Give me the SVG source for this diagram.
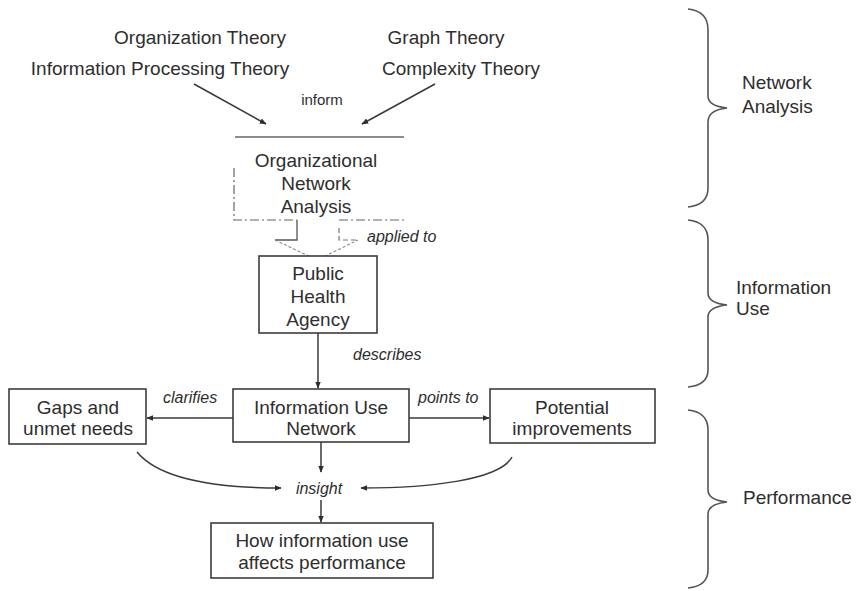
<svg xmlns="http://www.w3.org/2000/svg" width="857" height="591" viewBox="0 0 857 591">
<style>
text{font-family:"Liberation Sans",Arial,sans-serif;fill:#2e2e2e}
.t{font-size:19px;text-anchor:middle}
.s{font-size:19px}
.l{font-size:16px;font-style:italic}
.box{fill:#fff;stroke:#3c3c3c;stroke-width:1.6}
.c{fill:none;stroke:#3a3a3a;stroke-width:1.5}
.d{fill:none;stroke:#666;stroke-width:1.2;stroke-dasharray:9 3 2 3}
.br{fill:none;stroke:#555;stroke-width:1.6}
</style>
<defs>
<marker id="ah" viewBox="0 0 10 10" refX="9" refY="5" markerWidth="7" markerHeight="7" orient="auto" markerUnits="userSpaceOnUse">
<path d="M0,1 L10,5 L0,9 z" fill="#2e2e2e"/>
</marker>
</defs>

<g id="theories">
<text class="t" x="200" y="44">Organization Theory</text>
<text class="t" x="160" y="75">Information Processing Theory</text>
<text class="t" x="446" y="44">Graph Theory</text>
<text class="t" x="461" y="75">Complexity Theory</text>
</g>

<g id="ona">
<line x1="235" y1="137" x2="404" y2="137" stroke="#666" stroke-width="1.4"/>
<path class="d" d="M234,168 V220 H297"/>
<path class="d" d="M339,220 H404"/>
<path d="M297,220 V240 H275" fill="none" stroke="#555" stroke-width="1.3"/>
<path d="M339,228 V240 H358" fill="none" stroke="#777" stroke-width="1.2" stroke-dasharray="5 3"/>
<path d="M275,240 L317,260 L358,240" fill="none" stroke="#888" stroke-width="1.1" stroke-dasharray="3 2"/>
<text class="t" x="316" y="167">Organizational</text>
<text class="t" x="316" y="190">Network</text>
<text class="t" x="316" y="213">Analysis</text>
</g>

<g id="pha">
<rect class="box" x="259" y="256" width="118" height="77"/>
<text class="t" x="318" y="280">Public</text>
<text class="t" x="318" y="303">Health</text>
<text class="t" x="318" y="326">Agency</text>
</g>

<g id="iun">
<rect class="box" x="233" y="389" width="176" height="53"/>
<text class="t" x="321" y="414">Information Use</text>
<text class="t" x="321" y="435">Network</text>
</g>

<g id="gaps">
<rect class="box" x="9" y="389" width="137" height="55"/>
<text class="t" x="78" y="414">Gaps and</text>
<text class="t" x="78" y="435">unmet needs</text>
</g>

<g id="potential">
<rect class="box" x="490" y="389" width="165" height="54"/>
<text class="t" x="572" y="414">Potential</text>
<text class="t" x="572" y="435">improvements</text>
</g>

<g id="perf">
<rect class="box" x="211" y="523" width="222" height="55"/>
<text class="t" x="322" y="547">How information use</text>
<text class="t" x="322" y="569">affects performance</text>
</g>

<g id="connectors">
<line class="c" x1="194" y1="84" x2="266" y2="124" marker-end="url(#ah)"/>
<line class="c" x1="435" y1="84" x2="362" y2="124" marker-end="url(#ah)"/>
<line class="c" x1="318" y1="333" x2="318" y2="388" marker-end="url(#ah)"/>
<line class="c" x1="233" y1="418" x2="147" y2="418" marker-end="url(#ah)"/>
<line class="c" x1="409" y1="418" x2="489" y2="418" marker-end="url(#ah)"/>
<line class="c" x1="321" y1="442" x2="321" y2="472" marker-end="url(#ah)"/>
<path class="c" d="M137,452 C160,480 220,488 281,488" marker-end="url(#ah)"/>
<path class="c" d="M512,457 C500,480 430,488 361,488" marker-end="url(#ah)"/>
<line class="c" x1="321" y1="500" x2="321" y2="522" marker-end="url(#ah)"/>
</g>

<g id="labels">
<text x="322" y="105" style="font-size:15px;text-anchor:middle">inform</text>
<text class="l" x="367" y="242">applied to</text>
<text class="l" x="353" y="360">describes</text>
<text class="l" x="163" y="403">clarifies</text>
<text class="l" x="418" y="403">points to</text>
<text class="l" x="319" y="494" text-anchor="middle">insight</text>
</g>

<g id="braces">
<path class="br" d="M688,9 Q708,11 708,30 V96 Q708,106 727,108 Q708,110 708,122 V188 Q708,205 688,207"/>
<path class="br" d="M688,220 Q708,222 708,240 V293 Q708,303 727,305 Q708,307 708,317 V370 Q708,385 688,387"/>
<path class="br" d="M688,410 Q708,412 708,430 V490 Q708,500 727,502 Q708,504 708,514 V570 Q708,586 688,588"/>
<text class="s" x="742" y="89">Network</text>
<text class="s" x="742" y="113">Analysis</text>
<text class="s" x="736" y="294">Information</text>
<text class="s" x="736" y="315">Use</text>
<text class="s" x="743" y="504">Performance</text>
</g>
</svg>
